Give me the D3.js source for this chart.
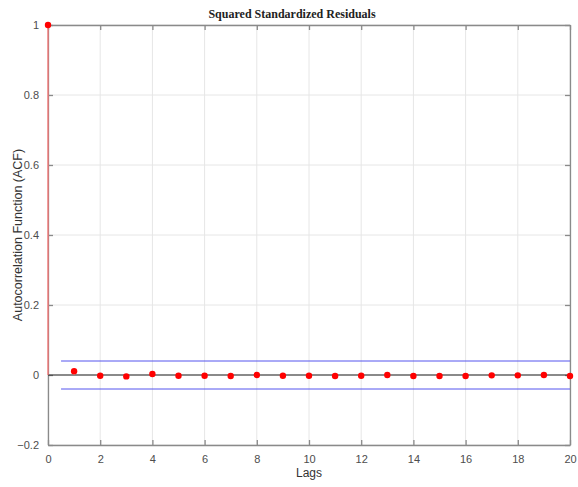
<!DOCTYPE html>
<html><head><meta charset="utf-8">
<script src="https://cdn.jsdelivr.net/npm/d3@7"></script>
<style>body{margin:0;background:#fff;}svg{display:block;}</style>
</head><body>
<script>
const lags = [0,1,2,3,4,5,6,7,8,9,10,11,12,13,14,15,16,17,18,19,20];
const acf = [1,0.011,-0.002,-0.004,0.003,-0.002,-0.002,-0.003,0.000,-0.002,-0.002,-0.003,-0.002,0.000,-0.003,-0.003,-0.003,-0.001,-0.001,0.000,-0.003];
const bound = [0.04,-0.04];
const boundRange = [0.5,20];
const xTicks = [0,2,4,6,8,10,12,14,16,18,20];
const yTicks = [-0.2,0,0.2,0.4,0.6,0.8,1];

const W=578,H=487;
const m={l:48,r:8,t:25,b:42};
const svg=d3.select("body").append("svg").attr("width",W).attr("height",H);
const x=d3.scaleLinear().domain([0,20]).range([m.l,W-m.r]);
const y=d3.scaleLinear().domain([-0.2,1]).range([H-m.b,m.t]);
const axisCol="#8a8a8a", textCol="#4d4d4d";

// grid
svg.append("g").selectAll("line").data(xTicks).join("line")
 .attr("x1",d=>x(d)).attr("x2",d=>x(d)).attr("y1",y(-0.2)).attr("y2",y(1))
 .attr("stroke","#e6e6e6").attr("stroke-width",1);
svg.append("g").selectAll("line").data(yTicks).join("line")
 .attr("y1",d=>y(d)).attr("y2",d=>y(d)).attr("x1",x(0)).attr("x2",x(20))
 .attr("stroke","#e6e6e6").attr("stroke-width",1);

// axes
const fmt=d=>d3.format("")(+d.toFixed(1));
const gx=svg.append("g").attr("transform",`translate(0,${y(-0.2)})`)
 .call(d3.axisBottom(x).tickValues(xTicks).tickSizeInner(-5).tickSizeOuter(0).tickPadding(10));
const gxt=svg.append("g").attr("transform",`translate(0,${y(1)})`)
 .call(d3.axisTop(x).tickValues(xTicks).tickSizeInner(-5).tickSizeOuter(0).tickFormat(""));
const gy=svg.append("g").attr("transform",`translate(${x(0)},0)`)
 .call(d3.axisLeft(y).tickValues(yTicks).tickSizeInner(-5).tickSizeOuter(0).tickPadding(9).tickFormat(fmt));
const gyr=svg.append("g").attr("transform",`translate(${x(20)},0)`)
 .call(d3.axisRight(y).tickValues(yTicks).tickSizeInner(-5).tickSizeOuter(0).tickFormat(""));
[gx,gxt,gy,gyr].forEach(g=>{
 g.selectAll("path,line").attr("stroke",axisCol).attr("stroke-width",1.3);
 g.selectAll("text").attr("fill",textCol).attr("font-family","Liberation Sans, Arial, sans-serif").attr("font-size",11);
});

// zero line
svg.append("line").attr("x1",x(0)).attr("x2",x(20)).attr("y1",y(0)).attr("y2",y(0))
 .attr("stroke","#222").attr("stroke-width",1.2);

// bounds
svg.append("g").selectAll("line").data(bound).join("line")
 .attr("x1",x(boundRange[0])).attr("x2",x(boundRange[1])).attr("y1",d=>y(d)).attr("y2",d=>y(d))
 .attr("stroke","#5555ee").attr("stroke-width",1);

// stems
svg.append("g").selectAll("line").data(lags).join("line")
 .attr("x1",d=>x(d)).attr("x2",d=>x(d)).attr("y1",y(0)).attr("y2",(d,i)=>y(acf[i]))
 .attr("stroke","#ff7070").attr("stroke-width",1.2);

// points
svg.append("g").selectAll("circle").data(lags).join("circle")
 .attr("cx",d=>x(d)).attr("cy",(d,i)=>y(acf[i])).attr("r",3.2).attr("fill","#f00");

// labels
svg.append("text").attr("x",292).attr("y",18).attr("text-anchor","middle")
 .attr("font-family","Liberation Serif, Times New Roman, serif").attr("font-weight","bold").attr("font-size",12)
 .attr("fill","#222").text("Squared Standardized Residuals");
svg.append("text").attr("x",309).attr("y",477).attr("text-anchor","middle")
 .attr("font-family","Liberation Sans, Arial, sans-serif").attr("font-size",12).attr("fill","#333").text("Lags");
svg.append("text").attr("transform",`translate(22,${(y(-0.2)+y(1))/2}) rotate(-90)`).attr("text-anchor","middle")
 .attr("font-family","Liberation Sans, Arial, sans-serif").attr("font-size",12.5).attr("fill","#333")
 .text("Autocorrelation Function (ACF)");
</script>
</body></html>
